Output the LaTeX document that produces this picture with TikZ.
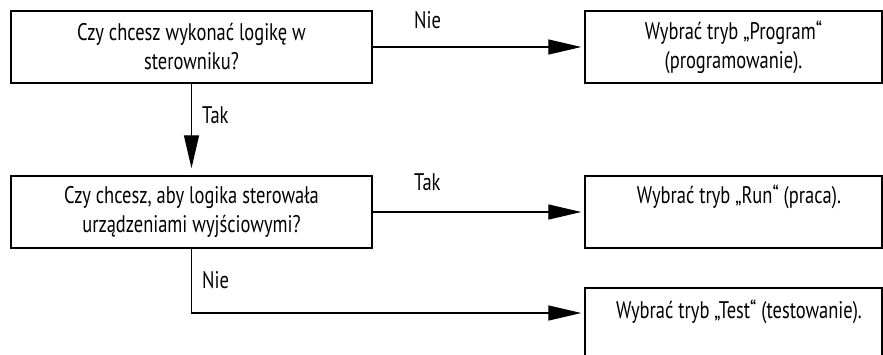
\documentclass[tikz,border=0pt]{standalone}
\usepackage{fontspec}
\setmainfont{PT Sans}[FakeStretch=0.77]
\usetikzlibrary{arrows.meta}
\begin{document}
\begin{tikzpicture}[x=1pt,y=-1pt,
  box/.style={draw, line width=1.4pt, inner sep=0pt},
  txt/.style={font=\fontsize{24}{29}\selectfont, align=center, inner sep=0pt},
  arr/.style={-{Triangle[length=33pt,width=15pt]}, line width=1.3pt},
  lbl/.style={font=\fontsize{24}{26}\selectfont, inner sep=0pt, anchor=west}]
\useasboundingbox (0,0) rectangle (883,354);
\clip (0,0) rectangle (883,354);
% left decision boxes
\node[box, txt, minimum width=361pt, minimum height=72pt] (q1) at (191.5,47)
  {Czy chcesz wykonać logikę w\\sterowniku?};
\node[box, txt, minimum width=361pt, minimum height=72pt] (q2) at (191.5,212)
  {Czy chcesz, aby logika sterowała\\urządzeniami wyjściowymi?};
% right result boxes
\node[box, txt, minimum width=297pt, minimum height=72pt] (r1) at (733.5,47)
  {Wybrać tryb „Program“\\(programowanie).};
\node[box, minimum width=297pt, minimum height=72pt] (r2) at (733.5,212) {};
\node[txt] (t2) at (739,197) {Wybrać tryb „Run“ (praca).};
\node[box, minimum width=297pt, minimum height=112pt] (r3) at (733.5,344) {};
\node[txt] (t3) at (739,312) {Wybrać tryb „Test“ (testowanie).};
% connectors
\draw[arr, shorten >=7pt] (q1.south) -- (q2.north);
\draw[arr, shorten >=3pt] (q1.east) -- (r1.west);
\draw[arr, shorten >=3pt] (q2.east) -- (r2.west);
\draw[arr, shorten >=3pt] (q2.south) |- ([yshift=-1pt]r3.west |- t3);
% labels
\node[lbl] (l1) at (414,20) {Nie};
\node[lbl] (l2) at (202,115) {Tak};
\node[lbl] (l3) at (414,182) {Tak};
\node[lbl] (l4) at (202,280) {Nie};
\end{tikzpicture}
\end{document}
